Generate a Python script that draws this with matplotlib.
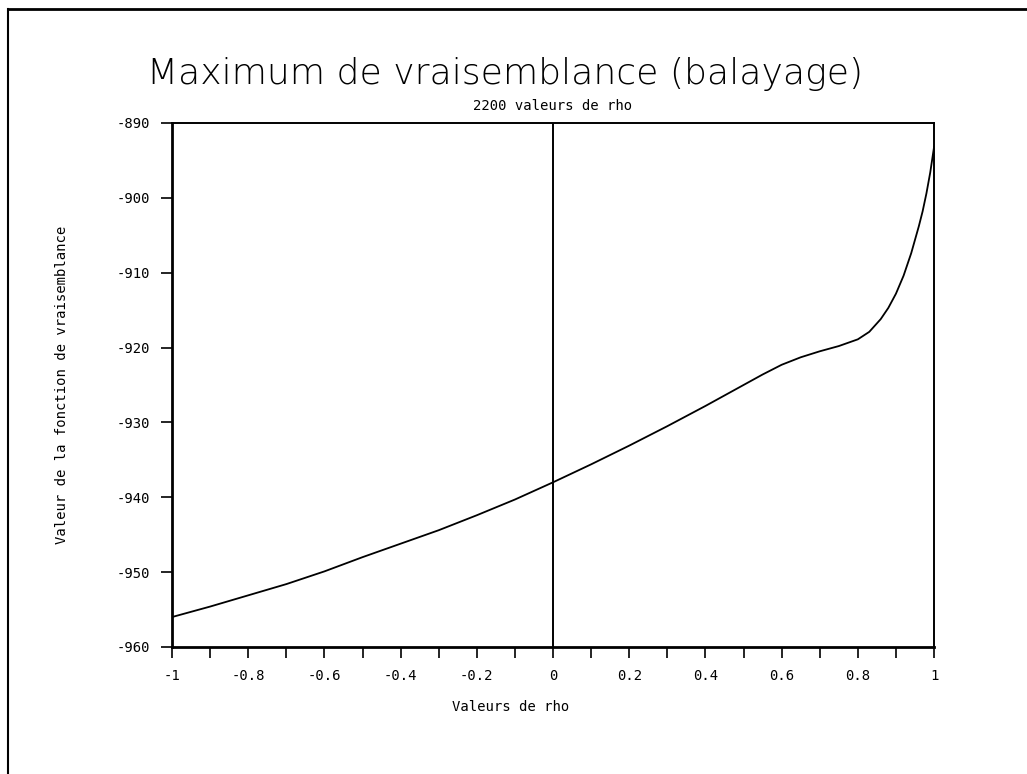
import matplotlib
matplotlib.use("Agg")
import matplotlib.pyplot as plt
from matplotlib.lines import Line2D

plt.rcParams["font.family"] = "DejaVu Sans Mono"
plt.rcParams["axes.unicode_minus"] = False

# valeurs
rho = [-1.0, -0.9, -0.8, -0.7, -0.6, -0.5, -0.4, -0.3, -0.2, -0.1, 0.0,
       0.1, 0.2, 0.3, 0.4, 0.5, 0.55, 0.6, 0.65, 0.7, 0.75, 0.8, 0.83,
       0.86, 0.88, 0.9, 0.92, 0.94, 0.96, 0.97, 0.98, 0.99, 1.0]
vraisemblance = [-956.0, -954.6, -953.1, -951.6, -949.9, -948.0, -946.2,
                 -944.4, -942.4, -940.3, -938.0, -935.6, -933.1, -930.5,
                 -927.8, -925.0, -923.6, -922.3, -921.3, -920.5, -919.8,
                 -918.9, -917.9, -916.2, -914.7, -912.8, -910.4, -907.4,
                 -903.8, -901.8, -899.4, -896.6, -893.2]

x_ticks = [-1, -0.8, -0.6, -0.4, -0.2, 0, 0.2, 0.4, 0.6, 0.8, 1]
x_labels = ["-1", "-0.8", "-0.6", "-0.4", "-0.2", "0", "0.2", "0.4", "0.6", "0.8", "1"]
x_minor = [-0.9, -0.7, -0.5, -0.3, -0.1, 0.1, 0.3, 0.5, 0.7, 0.9]
y_ticks = [-960, -950, -940, -930, -920, -910, -900, -890]
y_labels = ["-960", "-950", "-940", "-930", "-920", "-910", "-900", "-890"]

fig = plt.figure(figsize=(10.27, 7.74), dpi=100)
ax = fig.add_axes([0.1675, 0.1641, 0.742, 0.677])

ax.plot(rho, vraisemblance, color="black", lw=1.3)
ax.axvline(0, color="black", lw=1.4)

ax.set_xlim(-1, 1)
ax.set_ylim(-960, -890)
ax.set_xticks(x_ticks)
ax.set_xticklabels(x_labels, fontsize=10)
ax.set_xticks(x_minor, minor=True)
ax.set_yticks(y_ticks)
ax.set_yticklabels(y_labels, fontsize=10)
ax.tick_params(axis="both", which="both", direction="out", length=8, width=1.2, color="black")
ax.tick_params(axis="x", pad=8)
ax.tick_params(axis="y", pad=8)

for side in ["left", "bottom"]:
    ax.spines[side].set_linewidth(2)
for side in ["top", "right"]:
    ax.spines[side].set_linewidth(1.4)

ax.set_xlabel("Valeurs de rho", fontsize=10)
ax.xaxis.set_label_coords(0.444, -0.101)
ax.set_ylabel("Valeur de la fonction de vraisemblance", fontsize=10)
ax.yaxis.set_label_coords(-0.135, 0.5)
ax.set_title("2200 valeurs de rho", fontsize=10, pad=9)
fig.text(0.492, 0.905, "Maximum de vraisemblance (balayage)", fontsize=26,
         family="DejaVu Sans", weight="light", ha="center", va="center")

# cadre de la page
fig.add_artist(Line2D([0.008, 1.0], [0.989, 0.989], color="black", lw=2))
fig.add_artist(Line2D([0.008, 0.008], [0.0, 0.989], color="black", lw=1.5))

fig.savefig("out.png", dpi=100)
